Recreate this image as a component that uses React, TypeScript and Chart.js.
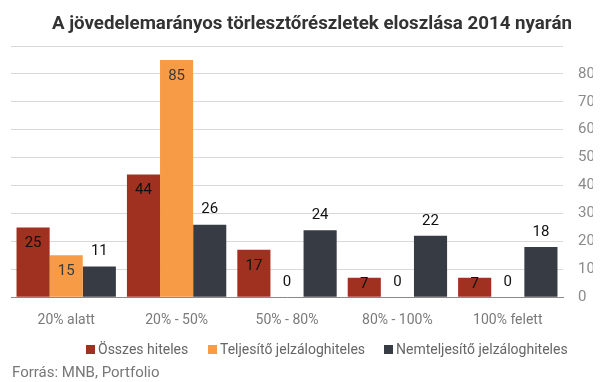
import React, { useEffect, useRef } from "react";
import { Chart, registerables } from "chart.js";

Chart.register(...registerables);

const categories = ["20% alatt", "20% - 50%", "50% - 80%", "80% - 100%", "100% felett"];
const seriesNames = ["Összes hiteles", "Teljesítő jelzáloghiteles", "Nemteljesítő jelzáloghiteles"];
const osszes = [25, 44, 17, 7, 7];
const teljesito = [15, 85, 0, 0, 0];
const nemteljesito = [11, 26, 24, 22, 18];
const colors = ["#A03020", "#F79B47", "#373B44"];
const titleText = "A jövedelemarányos törlesztőrészletek eloszlása 2014 nyarán";
const sourceText = "Forrás: MNB, Portfolio";
const legendLeft = [86, 208, 384];

const labelPlugin = {
  id: "barLabels",
  afterDatasetsDraw(chart: any) {
    const ctx = chart.ctx;
    ctx.save();
    ctx.font = "15px Roboto";
    ctx.textAlign = "center";
    ctx.textBaseline = "middle";
    chart.data.datasets.forEach((ds: any, di: number) => {
      const meta = chart.getDatasetMeta(di);
      meta.data.forEach((bar: any, i: number) => {
        const v = ds.data[i];
        const top = bar.y;
        const bottom = bar.base;
        let y: number;
        if (di === 2 || v === 0) {
          y = top - 15;
          ctx.fillStyle = "#111";
        } else {
          y = Math.min(top + 16, (top + bottom) / 2 - 3);
          ctx.fillStyle = di === 1 ? "#3a3a3a" : "#111";
        }
        ctx.fillText(String(v), bar.x, y);
      });
    });
    ctx.restore();
  },
};

export default function App() {
  const ref = useRef<HTMLCanvasElement>(null);
  useEffect(() => {
    document.body.style.margin = "0";
    const chart = new Chart(ref.current!, {
      type: "bar",
      data: {
        labels: categories,
        datasets: [
          { label: seriesNames[0], data: osszes, backgroundColor: colors[0] },
          { label: seriesNames[1], data: teljesito, backgroundColor: colors[1] },
          { label: seriesNames[2], data: nemteljesito, backgroundColor: colors[2] },
        ],
      },
      options: {
        animation: false,
        responsive: false,
        maintainAspectRatio: false,
        layout: { padding: { top: 46, left: 11, right: 14, bottom: 46 } },
        datasets: { bar: { categoryPercentage: 0.9, barPercentage: 1 } },
        plugins: {
          title: { display: false },
          tooltip: { enabled: false },
          legend: { display: false },
        },
        scales: {
          x: {
            grid: { display: false },
            border: { color: "#8a8a8a" },
            ticks: { color: "#7a7a7a", font: { family: "Roboto", size: 14 }, padding: 7 },
          },
          y: {
            position: "right",
            min: 0,
            max: 90,
            afterFit: (scale: any) => {
              scale.width = 30;
            },
            grid: { color: "#d9d9d9", drawTicks: false },
            border: { display: false },
            ticks: {
              stepSize: 10,
              color: "#8a8a8a",
              font: { family: "Roboto", size: 15 },
              padding: 15,
              callback: (v: any) => (v === 90 ? "" : String(v)),
            },
          },
        },
      },
      plugins: [labelPlugin],
    });
    return () => chart.destroy();
  }, []);
  return (
    <div style={{ position: "relative", width: 607, height: 382, background: "#fff", overflow: "hidden" }}>
      <canvas ref={ref} width={607} height={382} style={{ position: "absolute", left: 0, top: 0 }} />
      <div
        style={{
          position: "absolute",
          left: 0,
          width: 607,
          top: 12,
          lineHeight: "22px",
          textAlign: "center",
          fontFamily: "Roboto",
          fontWeight: "bold",
          fontSize: 19,
          color: "#333",
          whiteSpace: "nowrap",
        }}
      >
        <span style={{ display: "inline-block", transform: "scaleX(0.985)", transformOrigin: "center", marginLeft: 16 }}>
          {titleText}
        </span>
      </div>
      {seriesNames.map((name, i) => (
        <div
          key={name}
          style={{
            position: "absolute",
            left: legendLeft[i],
            top: 340,
            height: 18,
            display: "flex",
            alignItems: "center",
            fontFamily: "Roboto",
            fontSize: 14,
            color: "#666",
            whiteSpace: "nowrap",
          }}
        >
          <span style={{ display: "inline-block", width: 9, height: 9, background: colors[i], marginRight: 3 }} />
          <span>{name}</span>
        </div>
      ))}
      <div
        style={{
          position: "absolute",
          left: 12,
          top: 363,
          lineHeight: "18px",
          fontFamily: "Roboto",
          fontSize: 15,
          color: "#777",
          whiteSpace: "nowrap",
        }}
      >
        {sourceText}
      </div>
    </div>
  );
}
